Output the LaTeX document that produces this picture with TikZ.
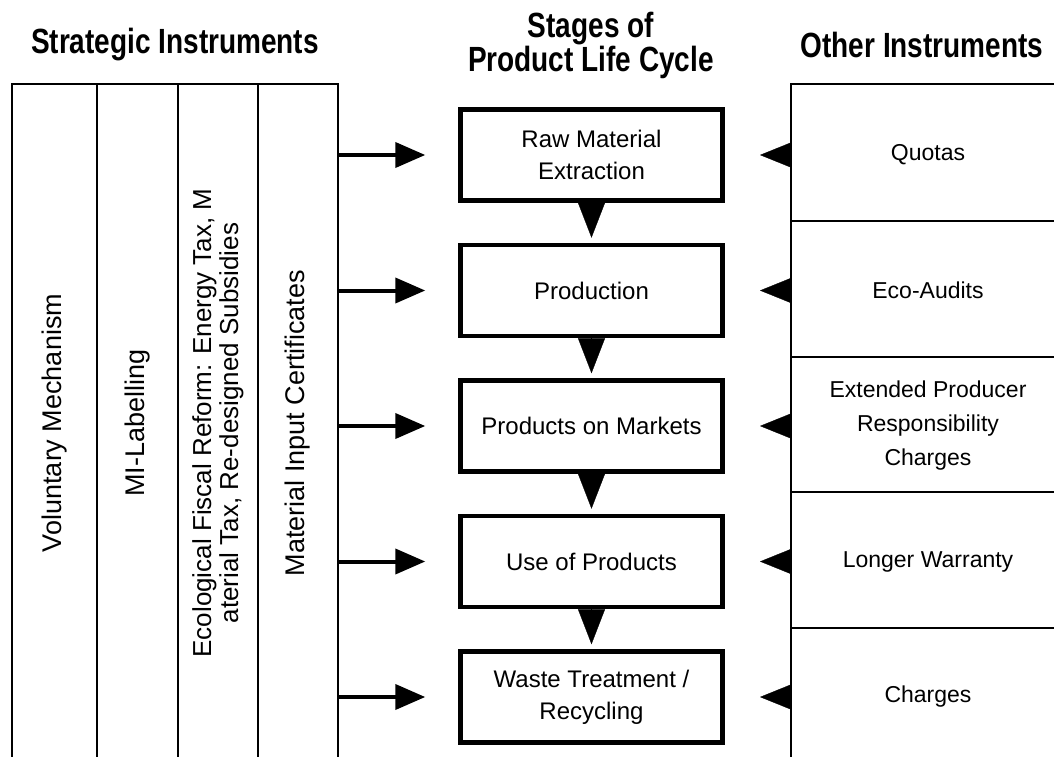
\documentclass[tikz,border=0pt]{standalone}
\usepackage{fontspec}
\setmainfont{Liberation Sans}
\newfontfamily\narrowFont[FakeStretch=0.8]{Liberation Sans}
\usetikzlibrary{positioning,arrows.meta}
\tikzstyle{lifeCycle} = [x=1pt, y=-1pt]
\tikzstyle{gridLine} = [line width=2.2pt]
\tikzstyle{stageBox} = [draw, line width=4.5pt, minimum width=262pt, minimum height=91pt, align=center, font=\fontsize{24}{32}\selectfont]
\tikzstyle{headText} = [align=center, font=\narrowFont\bfseries\fontsize{35}{34}\selectfont]
\tikzstyle{strategicText} = [rotate=90, align=center, font=\fontsize{27}{28}\selectfont]
\tikzstyle{otherText} = [align=center, font=\fontsize{23}{34}\selectfont]
\tikzstyle{feedArrow} = [line width=4pt, -{Triangle[length=30pt, width=25pt]}]
\tikzstyle{flowArrow} = [line width=0.3pt, shorten >=5pt, -{Triangle[length=35pt, width=27pt]}]
\tikzstyle{pushArrow} = [line width=0.3pt, -{Triangle[length=31pt, width=25pt]}]
\begin{document}
\begin{tikzpicture}[lifeCycle]
    \useasboundingbox (0,0) rectangle (1054,757);
    \node[headText] (strategic) at (175,45) {Strategic Instruments};
    \node[headText] (stages) at (591,45) {Stages of\\Product Life Cycle};
    \node[headText] (other) at (922,45) {Other Instruments};
    \draw[gridLine] (12,757) -- (12,84) -- (338,84) -- (338,757);
    \foreach \x in {97,178,258} {
      \draw[gridLine] (\x,84) -- (\x,757);
    }
    \node[strategicText] (voluntary) at (54.5,423) {Voluntary Mechanism};
    \node[strategicText] (labelling) at (137.5,423) {MI-Labelling};
    \node[strategicText, font=\fontsize{26}{27}\selectfont] (fiscal) at (218,423) {Ecological Fiscal Reform: Energy Tax, M\\aterial Tax, Re-designed Subsidies};
    \node[strategicText] (certificates) at (298,423) {Material Input Certificates};
    \node[stageBox] (raw) at (591.5,155) {Raw Material\\Extraction};
    \node[stageBox, below=40pt of raw] (production) {Production};
    \node[stageBox, below=40pt of production] (markets) {Products on Markets};
    \node[stageBox, below=40pt of markets] (use) {Use of Products};
    \node[stageBox, below=40pt of use] (waste) {Waste Treatment /\\Recycling};
    \draw[gridLine] (1054,84) -- (791,84) -- (791,757);
    \foreach \y in {221,357,492,628} {
      \draw[gridLine] (791,\y) -- (1054,\y);
    }
    \coordinate (strategicEdge) at (338,84);
    \coordinate (otherEdge) at (791,84);
    \coordinate (otherMid) at (928,84);
    \node[otherText] (quotas) at (otherMid |- raw) {Quotas};
    \node[otherText] (audits) at (otherMid |- production) {Eco-Audits};
    \node[otherText] (responsibility) at (otherMid |- markets) {Extended Producer\\Responsibility\\Charges};
    \node[otherText] (warranty) at (otherMid |- use) {Longer Warranty};
    \node[otherText] (charges) at (otherMid |- waste) {Charges};
    \foreach \stage in {raw,production,markets,use,waste} {
      \draw[feedArrow] (strategicEdge |- \stage) -- ([xshift=-33pt]\stage.west);
      \draw[pushArrow] (otherEdge |- \stage) -- ++(-31pt,0);
    }
    \draw[flowArrow] (raw) -- (production);
    \draw[flowArrow] (production) -- (markets);
    \draw[flowArrow] (markets) -- (use);
    \draw[flowArrow] (use) -- (waste);
\end{tikzpicture}
\end{document}
